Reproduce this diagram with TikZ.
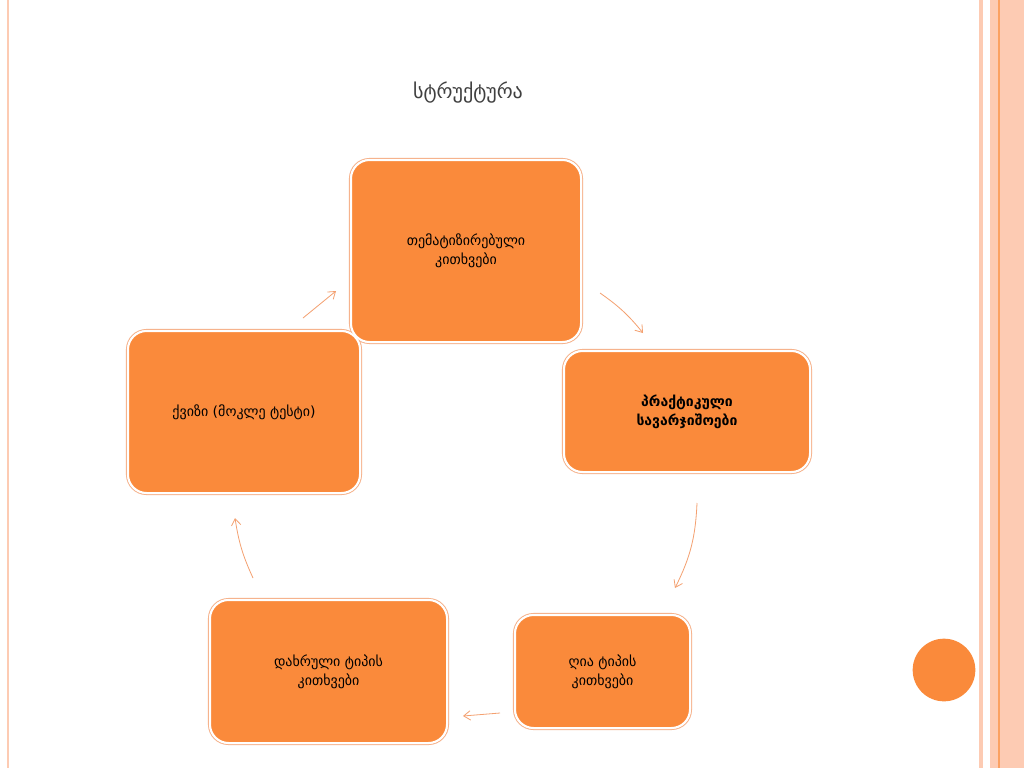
\documentclass[tikz,border=0pt]{standalone}
\usepackage{fontspec}
\setmainfont{DejaVu Sans}
\begin{document}
\begin{tikzpicture}[x=0.75pt,y=-0.75pt,
  box/.style={draw=white,line width=1.5pt,fill=boxor,rounded corners=14pt,align=center,font=\fontsize{10.5}{14}\selectfont,inner sep=0pt},
  arr/.style={draw=arror,line width=0.6pt,-{Straight Barb[length=5pt,width=7pt]}}]
\usetikzlibrary{arrows.meta}
\definecolor{boxor}{HTML}{FA8A3B}
\definecolor{arror}{HTML}{F4A070}
\definecolor{stripe}{HTML}{FDCBB3}
\useasboundingbox (0,0) rectangle (1024,768);
\fill[white] (0,0) rectangle (1024,768);
\fill[stripe] (7,0) rectangle (9,768);
\fill[stripe] (979,0) rectangle (983,768);
\fill[stripe] (990,0) rectangle (1024,768);
\fill[boxor!80] (998,0) rectangle (999.5,768);
\node[font=\fontsize{15}{18}\selectfont,text=black!75] (title) at (468,93) {სტრუქტურა};
\foreach \n/\a/\b/\c/\d in {t/351/160/581/342, r/564/351/810/472, br/515/615/690/728, bl/210/600/447/743, l/128/331/360/493}{
  \draw[draw=arror!80,line width=0.8pt,rounded corners=15pt] (\a-1.5,\b-1.5) rectangle (\c+1.5,\d+1.5);
}
\node[box,minimum width=172.5pt,minimum height=136.5pt] (t) at (466,251) {თემატიზირებული\\კითხვები};
\node[box,minimum width=184.5pt,minimum height=90.75pt] (r) at (687,411.5) {\bfseries პრაქტიკული\\\bfseries სავარჯიშოები};
\node[box,minimum width=131.25pt,minimum height=84.75pt] (br) at (602.5,671.5) {ღია ტიპის\\კითხვები};
\node[box,minimum width=177.75pt,minimum height=107.25pt] (bl) at (328.5,671.5) {დახრული ტიპის\\კითხვები};
\node[box,minimum width=174pt,minimum height=121.5pt] (l) at (244,412) {ქვიზი (მოკლე ტესტი)};
\fill[boxor] (944,670) circle (23.5pt);
\draw[arr] (303,318) to (336,291);
\draw[arr] (600,293) to[bend left=8] (643,333);
\draw[arr] (697,503) to[bend left=12] (675,588);
\draw[arr] (500,713) to (463,716);
\draw[arr] (253,578) to[bend left=8] (235,518);
\end{tikzpicture}
\end{document}
